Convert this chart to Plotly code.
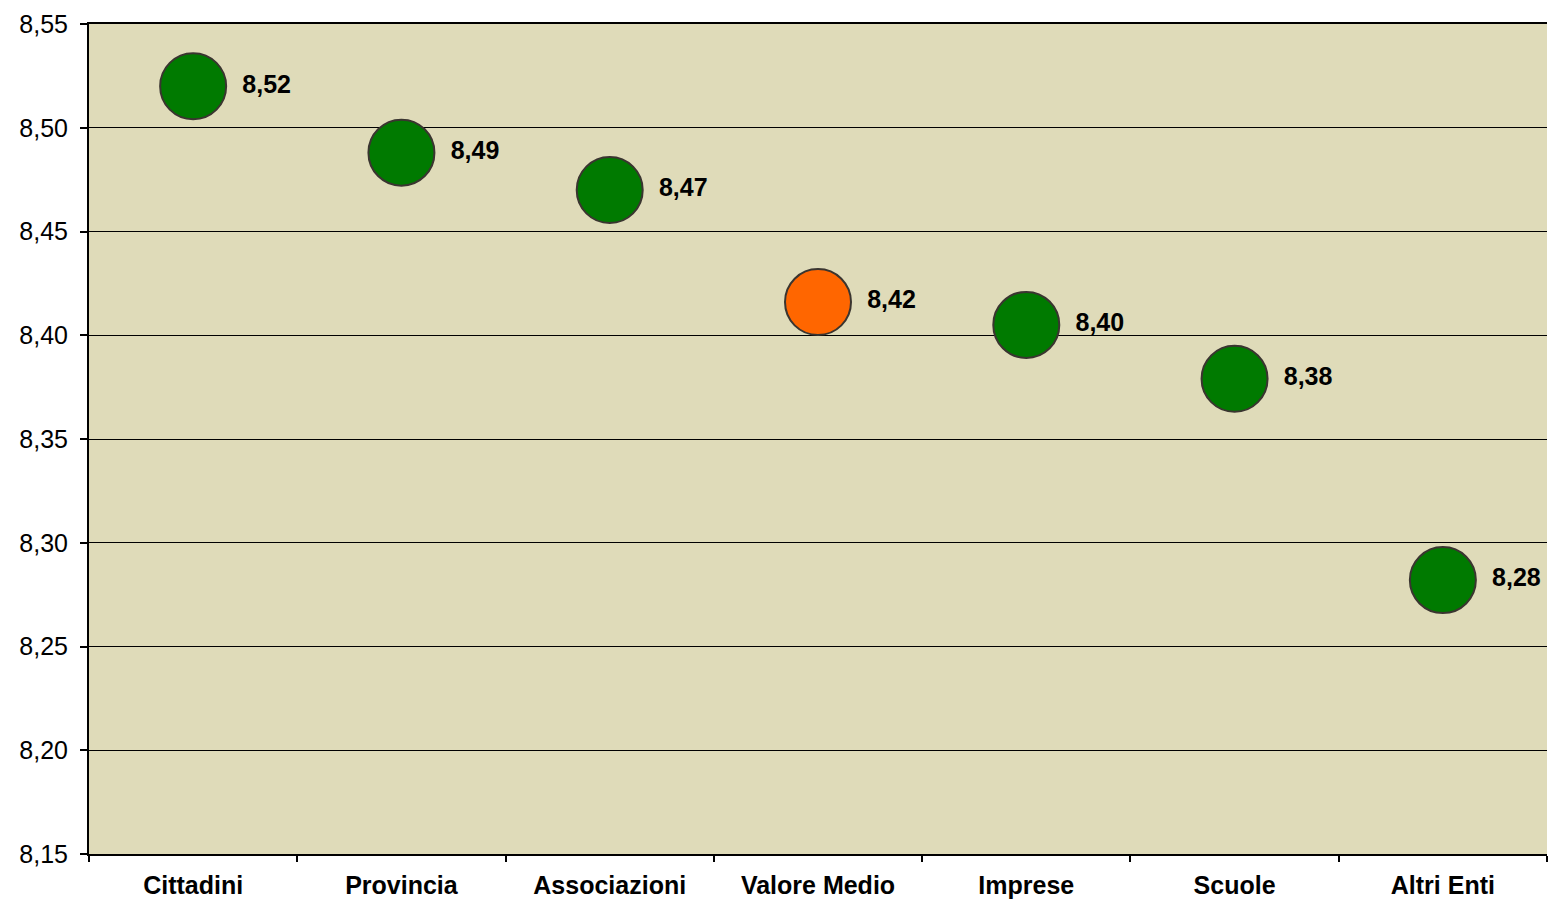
import plotly.graph_objects as go

categories = ["Cittadini", "Provincia", "Associazioni", "Valore Medio", "Imprese", "Scuole", "Altri Enti"]
scores = [8.520, 8.488, 8.470, 8.416, 8.405, 8.379, 8.282]
colors = ["#007A00", "#007A00", "#007A00", "#FF6600", "#007A00", "#007A00", "#007A00"]

y_ticks = [8.15, 8.20, 8.25, 8.30, 8.35, 8.40, 8.45, 8.50, 8.55]

FONT = "Liberation Sans, Arial, sans-serif"

fig = go.Figure(
    go.Scatter(
        x=categories,
        y=scores,
        mode="markers+text",
        marker=dict(size=66, color=colors, line=dict(color="#3A3530", width=2)),
        text=["&nbsp;<b>" + f"{v:.2f}".replace(".", ",") + "</b>" for v in scores],
        textposition="middle right",
        textfont=dict(family=FONT, size=25, color="#000000"),
        cliponaxis=False,
        hoverinfo="x+y",
    )
)

fig.update_layout(
    width=1549,
    height=901,
    margin=dict(l=89, r=2, t=24, b=47),
    paper_bgcolor="#FFFFFF",
    plot_bgcolor="#DFDBB9",
    showlegend=False,
    separators=",.",
    font=dict(family=FONT, color="#000000"),
)

fig.update_xaxes(
    type="category",
    range=[-0.5, len(categories) - 0.5],
    tickson="boundaries",
    ticks="outside",
    ticklen=6,
    tickwidth=2,
    tickcolor="#000000",
    ticklabelstandoff=8,
    showgrid=False,
    showline=True,
    linecolor="#000000",
    linewidth=2,
    mirror=True,
    tickfont=dict(family=FONT, size=25, color="#000000"),
    tickprefix="<b>",
    ticksuffix="</b>",
)

fig.update_yaxes(
    range=[8.15, 8.55],
    tickvals=y_ticks,
    tickformat=".2f",
    ticks="outside",
    ticklen=7,
    tickwidth=2,
    tickcolor="#000000",
    ticklabelstandoff=7,
    showgrid=True,
    gridcolor="#000000",
    gridwidth=1,
    showline=True,
    linecolor="#000000",
    linewidth=2,
    zeroline=False,
    tickfont=dict(family=FONT, size=25, color="#000000"),
)

fig.write_html("out.html")
